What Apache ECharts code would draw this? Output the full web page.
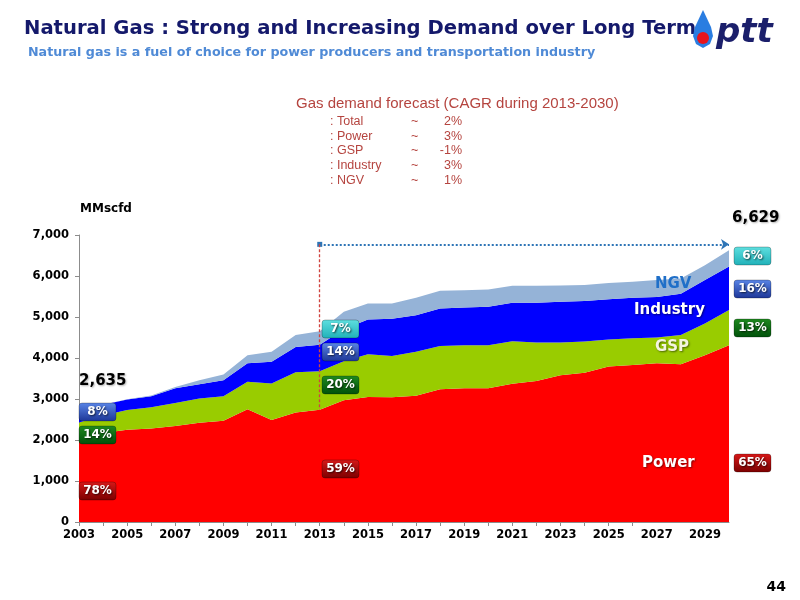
<!DOCTYPE html>
<html><head><meta charset="utf-8">
<script src="https://cdn.jsdelivr.net/npm/echarts@6/dist/echarts.min.js"></script>
<style>html,body{margin:0;padding:0;background:#fff}#c{width:800px;height:600px}</style>
</head><body><div id="c"></div>
<script>
const years = ['2003','2004','2005','2006','2007','2008','2009','2010','2011','2012','2013','2014','2015','2016','2017','2018','2019','2020','2021','2022','2023','2024','2025','2026','2027','2028','2029','2030'];
const power    = [2055,2170,2250,2280,2340,2420,2470,2750,2490,2670,2740,2970,3050,3040,3080,3240,3260,3260,3370,3440,3580,3640,3790,3830,3870,3850,4070,4309];
const gsp      = [369,430,480,520,560,590,600,670,890,980,935,950,1040,1010,1070,1050,1050,1050,1040,940,800,760,660,650,630,710,770,862];
const industry = [211,260,260,270,360,350,390,450,530,620,650,780,850,910,890,920,920,940,940,970,990,990,980,990,990,1010,1060,1061];
const ngv      = [0,0,5,15,30,100,140,200,240,290,325,430,390,370,430,430,420,420,410,410,400,390,400,390,410,370,360,397];
const yTicks = [0,1000,2000,3000,4000,5000,6000,7000];
const cagrNames = [': Total',': Power',': GSP',': Industry',': NGV'];
const cagrValues = ['2%','3%','-1%','3%','1%'];
const share2003 = ['8%','14%','78%'];
const share2013 = ['7%','14%','20%','59%'];
const share2030 = ['6%','16%','13%','65%'];

const chart = echarts.init(document.getElementById('c'));
const F = 'DejaVu Sans';
function grad(a,b){return new echarts.graphic.LinearGradient(0,0,0,1,[{offset:0,color:a},{offset:1,color:b}]);}
const boxCols = {
  blue: ['#5a86e8','#1c3596'],
  green:['#1f8a1f','#00500a'],
  red:  ['#d81818','#7a0000'],
  cyan: ['#5fe0e0','#1fb0b8']
};
function box(x,y,txt,col){
  return {type:'group', x:x, y:y, z:100, children:[
    {type:'rect', z:100, shape:{x:0,y:0,width:37,height:18,r:3}, style:{fill:grad(boxCols[col][0],boxCols[col][1]), stroke:'rgba(0,0,0,0.25)', lineWidth:1}},
    {type:'text', z:101, x:18.5, y:9, style:{text:txt, fill:'#fff', font:'bold 12px '+F, textAlign:'center', textVerticalAlign:'middle', textShadowColor:'rgba(0,0,0,0.7)', textShadowBlur:2, textShadowOffsetX:1, textShadowOffsetY:1}}
  ]};
}
const shadow = {textShadowColor:'rgba(0,0,0,0.5)', textShadowBlur:2, textShadowOffsetX:1, textShadowOffsetY:1};
const graphics = [
  {type:'text', z:100, left:24, top:19, style:{text:'Natural Gas : Strong and Increasing Demand over Long Term', fill:'#14196b', font:'bold 19.6px '+F}},
  {type:'text', z:100, left:28, top:46, style:{text:'Natural gas is a fuel of choice for power producers and transportation industry', fill:'#4f8ad6', font:'bold 12.7px '+F}},
  // ptt logo
  {type:'polygon', z:100, shape:{points:[[703,10],[711,27],[713,36],[710,44],[703,48],[696,44],[693,36],[695,27]]}, style:{fill:'#2a7de1'}},
  {type:'circle', z:101, shape:{cx:703,cy:38,r:6}, style:{fill:'#e8141c'}},
  {type:'text', z:100, left:716, top:16, style:{text:'ptt', fill:'#1b1f6b', font:'italic bold 34px '+F}},
  {type:'text', z:100, left:296, top:96, style:{text:'Gas demand forecast (CAGR during 2013-2030)', fill:'#b5443f', font:'15px Liberation Sans'}},
  {type:'text', z:100, left:80, top:203, style:{text:'MMscfd', fill:'#000', font:'bold 12px '+F}},
  {type:'text', z:100, left:79, top:374, style:Object.assign({text:'2,635', fill:'#000', font:'bold 15px '+F}, shadow, {textShadowColor:'rgba(0,0,0,0.3)'})},
  {type:'text', z:100, left:732, top:211, style:Object.assign({text:'6,629', fill:'#000', font:'bold 15px '+F}, shadow, {textShadowColor:'rgba(0,0,0,0.3)'})},
  {type:'text', z:100, left:655, top:277, style:{text:'NGV', fill:'#1f6fc8', font:'bold 15px '+F}},
  {type:'text', z:100, left:634, top:303, style:Object.assign({text:'Industry', fill:'#fff', font:'bold 15px '+F}, shadow)},
  {type:'text', z:100, left:655, top:340, style:Object.assign({text:'GSP', fill:'#f4f4e0', font:'bold 15px '+F}, shadow)},
  {type:'text', z:100, left:642, top:456, style:Object.assign({text:'Power', fill:'#fff', font:'bold 15px '+F}, shadow)},
  {type:'text', z:100, right:14, top:580, style:{text:'44', fill:'#000', font:'bold 14px '+F}}
];
cagrNames.forEach((n,i)=>{
  graphics.push({type:'text', z:100, left:330, top:115+i*14.7, style:{text:n, fill:'#b5443f', font:'12.5px Liberation Sans'}});
  graphics.push({type:'text', z:100, left:411, top:115+i*14.7, style:{text:'~', fill:'#b5443f', font:'12.5px Liberation Sans'}});
  graphics.push({type:'text', z:100, right:800-462, top:115+i*14.7, style:{text:cagrValues[i], fill:'#b5443f', font:'12.5px Liberation Sans', textAlign:'right'}});
});
graphics.push(box(79,403,share2003[0],'blue'));
graphics.push(box(79,426,share2003[1],'green'));
graphics.push(box(79,482,share2003[2],'red'));
graphics.push(box(322,320,share2013[0],'cyan'));
graphics.push(box(322,343,share2013[1],'blue'));
graphics.push(box(322,376,share2013[2],'green'));
graphics.push(box(322,460,share2013[3],'red'));
graphics.push(box(734,247,share2030[0],'cyan'));
graphics.push(box(734,280,share2030[1],'blue'));
graphics.push(box(734,319,share2030[2],'green'));
graphics.push(box(734,454,share2030[3],'red'));

function areaSeries(name, data, color, extra){
  return Object.assign({
    name:name, type:'line', stack:'total', data:data, symbol:'none',
    lineStyle:{width:0}, areaStyle:{color:color, opacity:1}, itemStyle:{color:color}, z:2
  }, extra||{});
}
const arrowLevel = 6772;
chart.setOption({
  animation:false,
  grid:{left:79, right:71, top:235, bottom:78},
  xAxis:{type:'category', data:years, boundaryGap:false,
    axisLine:{lineStyle:{color:'#8c8c8c'}},
    axisTick:{show:true, interval:(i)=>i<=23, length:4, lineStyle:{color:'#8c8c8c'}},
    axisLabel:{interval:1, color:'#000', fontFamily:F, fontWeight:'bold', fontSize:11.5, margin:7}
  },
  yAxis:{type:'value', min:yTicks[0], max:yTicks[yTicks.length-1], interval:1000,
    splitLine:{show:false},
    axisLine:{show:true, lineStyle:{color:'#8c8c8c'}},
    axisTick:{show:true, length:4, lineStyle:{color:'#8c8c8c'}},
    axisLabel:{color:'#000', fontFamily:F, fontWeight:'bold', fontSize:11.5, margin:10,
      formatter:v=>v.toLocaleString('en-US')}
  },
  series:[
    areaSeries('Power', power, '#ff0000', {
      markLine:{silent:true, animation:false, label:{show:false}, symbol:['none','none'],
        data:[
          [{coord:['2013',arrowLevel], symbol:'rect', symbolSize:5, lineStyle:{color:'#2e75b6',type:[2,2],width:2}},
           {coord:['2030',arrowLevel], symbol:'arrow', symbolSize:8}],
          [{coord:['2013',arrowLevel], lineStyle:{color:'#d0433f',type:[3,2],width:1.3}},
           {coord:['2013',power[10]]}]
        ]}
    }),
    areaSeries('GSP', gsp, '#99cc00'),
    areaSeries('Industry', industry, '#0000ff'),
    areaSeries('NGV', ngv, '#95b3d7')
  ],
  graphic:graphics
});
</script></body></html>
